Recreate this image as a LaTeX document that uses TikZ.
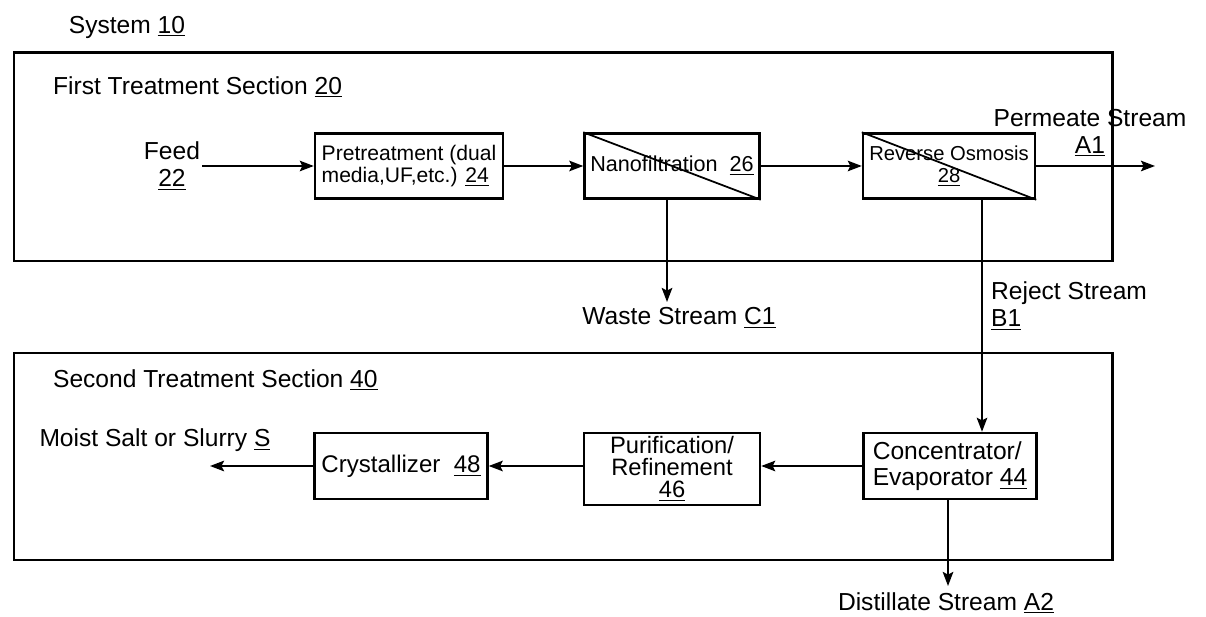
\documentclass[tikz,border=0pt]{standalone}
\usepackage{fontspec}
\setmainfont{Liberation Sans}
\usetikzlibrary{arrows.meta}
\newcommand{\refnum}[1]{\underline{#1}}

\begin{document}
\begin{tikzpicture}[
    x=0.02cm, y=-0.02cm,
    box/.style={draw=black, line width=1.4pt, inner sep=2pt, minimum height=1.3cm, align=center, font=\fontsize{14}{15}\selectfont},
    lbl/.style={inner sep=1pt, align=center, font=\fontsize{14}{15.4}\selectfont},
    arrow/.style={->, >={Stealth[length=8pt, width=6pt, inset=1.5pt]}, line width=1.1pt},
    frame/.style={line width=1.7pt}
]
    \useasboundingbox (0,0) rectangle (1206,617);

    % Section frames
    \draw[frame] (14,53) rectangle (1112,261);
    \draw[frame] (14,353) rectangle (1112,560);

    % Titles
    \node[lbl] (sys) at (127,27) {System \refnum{10}};
    \node[lbl, anchor=west] (sec1) at (51,87) {First Treatment Section \refnum{20}};
    \node[lbl, anchor=west] (sec2) at (51,380) {Second Treatment Section \refnum{40}};

    % Nodes
    \node[lbl] (feed) at (172,166) {Feed\\\refnum{22}};
    \node[box, minimum width=3.76cm, align=left, font=\fontsize{12}{13}\selectfont] (pre) at (409,166) {Pretreatment (dual\\media,UF,etc.) \refnum{24}};
    \node[box, minimum width=3.5cm, font=\fontsize{12.3}{13}\selectfont] (nf) at (672,166) {Nanofiltration~~\refnum{26}};
    \node[box, minimum width=3.44cm, font=\fontsize{11.5}{12.5}\selectfont] (ro) at (949,166) {Reverse Osmosis\\\refnum{28}};
    \node[box, minimum width=3.46cm, minimum height=1.32cm, align=left] (ce) at (950,466) {Concentrator/\\Evaporator \refnum{44}};
    \node[box, minimum width=3.52cm, minimum height=1.38cm, font=\fontsize{13.5}{12.5}\selectfont] (pu) at (672,469) {Purification/\\Refinement\\\refnum{46}};
    \node[box, minimum width=3.46cm, minimum height=1.32cm, font=\fontsize{13.7}{15}\selectfont] (cr) at (401,466) {Crystallizer~~\refnum{48}};

    % Stream labels
    \node[lbl] (a1) at (1090,133) {Permeate Stream\\\refnum{A1}};
    \node[lbl, align=left, anchor=west] (b1) at (989,306) {Reject Stream\\\refnum{B1}};
    \node[lbl] (c1) at (679,318) {Waste Stream \refnum{C1}};
    \node[lbl] (a2) at (946,603) {Distillate Stream \refnum{A2}};
    \node[lbl] (s) at (155,440) {Moist Salt or Slurry \refnum{S}};

    % Free ends
    \coordinate (a1end) at (1155,166);
    \coordinate (c1end) at (667,302);
    \coordinate (b1x) at (982,200);
    \coordinate (a2end) at (948,586);
    \coordinate (send) at (210,466);

    % Edges
    \draw[arrow] (feed) -- (pre);
    \draw[arrow] (pre) -- (nf);
    \draw[arrow] (nf) -- (ro);
    \draw[arrow] (ro) -- (a1end);
    \draw[arrow] (nf.south -| c1end) -- (c1end);
    \draw[arrow] (ro.south -| b1x) -- (ce.north -| b1x);
    \draw[arrow] (ce) -- (pu.east |- ce);
    \draw[arrow] (pu.west |- cr) -- (cr);
    \draw[arrow] (cr) -- (send);
    \draw[arrow] (ce.south -| a2end) -- (a2end);

    % Membrane diagonals
    \draw[line width=1pt] (nf.north west) -- (nf.south east);
    \draw[line width=1pt] (ro.north west) -- (ro.south east);
\end{tikzpicture}
\end{document}
